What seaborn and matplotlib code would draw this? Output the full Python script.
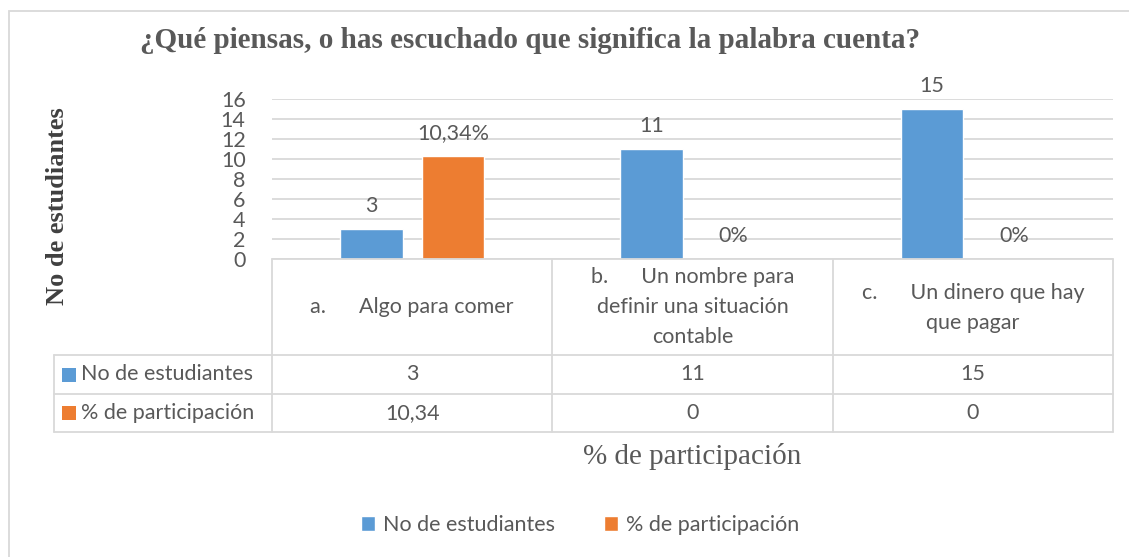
import matplotlib
matplotlib.use("Agg")
import matplotlib.pyplot as plt
import matplotlib.transforms as mtransforms
from matplotlib.patches import Rectangle
from matplotlib.lines import Line2D
import seaborn as sns
import pandas as pd

# ---------------- data ----------------
categorias = [
    "a.      Algo para comer",
    "b.      Un nombre para\ndefinir una situación\ncontable",
    "c.      Un dinero que hay\nque pagar",
]
series = ["No de estudiantes", "% de participación"]
estudiantes = [3, 11, 15]
participacion = [10.34, 0, 0]
etiquetas_estudiantes = ["3", "11", "15"]
etiquetas_participacion = ["10,34%", "0%", "0%"]
tabla_estudiantes = ["3", "11", "15"]
tabla_participacion = ["10,34", "0", "0"]
y_ticks = [0, 2, 4, 6, 8, 10, 12, 14, 16]

titulo = "¿Qué piensas, o has escuchado que significa la palabra cuenta?"
y_titulo = "No de estudiantes"
x_titulo = "% de participación"

# ---------------- style ----------------
sns.set_style("white")
plt.rcParams["font.family"] = ["Lato", "DejaVu Sans"]

BLUE = "#5B9BD5"
ORANGE = "#ED7D31"
TXT = "#595959"
GRID = "#D9D9D9"
W, H = 1129, 557
FS = 15.5

df = pd.DataFrame({
    "categoria": list(range(len(categorias))) * 2,
    "serie": [series[0]] * len(categorias) + [series[1]] * len(categorias),
    "valor": estudiantes + participacion,
})

fig = plt.figure(figsize=(W / 100, H / 100), dpi=100)
fig.patch.set_facecolor("white")


def fx(px):
    return px / W


def fy(py):
    return 1 - py / H


ax = fig.add_axes([fx(272), fy(259), fx(1113) - fx(272), fy(99) - fy(259)])
sns.barplot(data=df, x="categoria", y="valor", hue="serie",
            palette=[BLUE, ORANGE], width=0.584, gap=0.233,
            saturation=1, ax=ax, legend=True)

handles, labels = ax.get_legend_handles_labels()
if ax.get_legend() is not None:
    ax.get_legend().remove()

ax.set_xlim(-0.5, len(categorias) - 0.5)
ax.set_ylim(0, 16)
ax.set_yticks(y_ticks)
ax.set_yticklabels([str(t) for t in y_ticks], fontsize=FS, color=TXT)
ax.tick_params(axis="y", length=0, pad=19)
ax.set_xticks([])
ax.set_xlabel("")
ax.set_ylabel("")
for s in ax.spines.values():
    s.set_visible(False)
ax.yaxis.grid(True, color=GRID, lw=1.3)
ax.set_axisbelow(True)

for cont, labs in zip(ax.containers, [etiquetas_estudiantes, etiquetas_participacion]):
    txts = ax.bar_label(cont, labels=labs, padding=9, fontsize=FS, color=TXT)
    for t in txts:
        t.set_clip_on(False)

# ---------------- data table ----------------
blend = mtransforms.blended_transform_factory(ax.transData, fig.transFigure)
rows_y = [259, 355, 394, 432]
n = len(categorias)
bounds = [i - 0.5 for i in range(n + 1)]
lw = 1.3

ax.add_line(Line2D([bounds[0], bounds[-1]], [fy(259), fy(259)], transform=blend,
                   color=GRID, lw=lw, clip_on=False))
for y in rows_y[1:]:
    fig.add_artist(Line2D([fx(54), fx(1113)], [fy(y), fy(y)], color=GRID, lw=lw))
for b in bounds:
    ax.add_line(Line2D([b, b], [fy(259), fy(432)], transform=blend,
                       color=GRID, lw=lw, clip_on=False))
fig.add_artist(Line2D([fx(54), fx(54)], [fy(355), fy(432)], color=GRID, lw=lw))

header_y = [307, 307, 308]
for i, c in enumerate(categorias):
    ax.text(i, fy(header_y[i]), c, transform=blend, ha="center", va="center",
            multialignment="center", fontsize=FS, color=TXT, linespacing=1.62,
            clip_on=False)
for i in range(n):
    ax.text(i, fy(374.5), tabla_estudiantes[i], transform=blend, ha="center",
            va="center", fontsize=FS, color=TXT, clip_on=False)
    ax.text(i, fy(413), tabla_participacion[i], transform=blend, ha="center",
            va="center", fontsize=FS, color=TXT, clip_on=False)
for yc, name, col in [(374.5, series[0], BLUE), (413, series[1], ORANGE)]:
    fig.patches.append(Rectangle((fx(62), fy(yc + 7)), fx(14), fy(yc - 7) - fy(yc + 7),
                                 facecolor=col, edgecolor="none",
                                 transform=fig.transFigure, figure=fig))
    fig.text(fx(81), fy(yc), name, ha="left", va="center", fontsize=FS, color=TXT)

# ---------------- titles ----------------
fig.text(fx(530), fy(40), titulo, ha="center", va="center",
         family=["Liberation Serif", "DejaVu Serif"], fontweight="bold",
         fontsize=21, color=TXT)
fig.text(fx(58), fy(206), y_titulo, ha="center", va="center", rotation=90,
         family=["Liberation Serif", "DejaVu Serif"], fontweight="bold",
         fontsize=19, color="#404040")
fig.text(fx(692), fy(456), x_titulo, ha="center", va="center",
         family=["Liberation Serif", "DejaVu Serif"], fontsize=21, color=TXT)

# ---------------- legend ----------------
fig.legend(handles, labels, loc="center", bbox_to_anchor=(fx(580), fy(525)),
           ncol=2, frameon=False, fontsize=FS, labelcolor=TXT,
           handlelength=0.65, handleheight=0.65, handletextpad=0.35,
           columnspacing=2.3)

# ---------------- outer border ----------------
fig.patches.append(Rectangle((fx(8.5), -0.1), 1.5, fy(10.5) + 0.1, fill=False,
                             edgecolor=GRID, lw=1.3, transform=fig.transFigure,
                             figure=fig))

fig.savefig("out.png", dpi=100, facecolor="white")
